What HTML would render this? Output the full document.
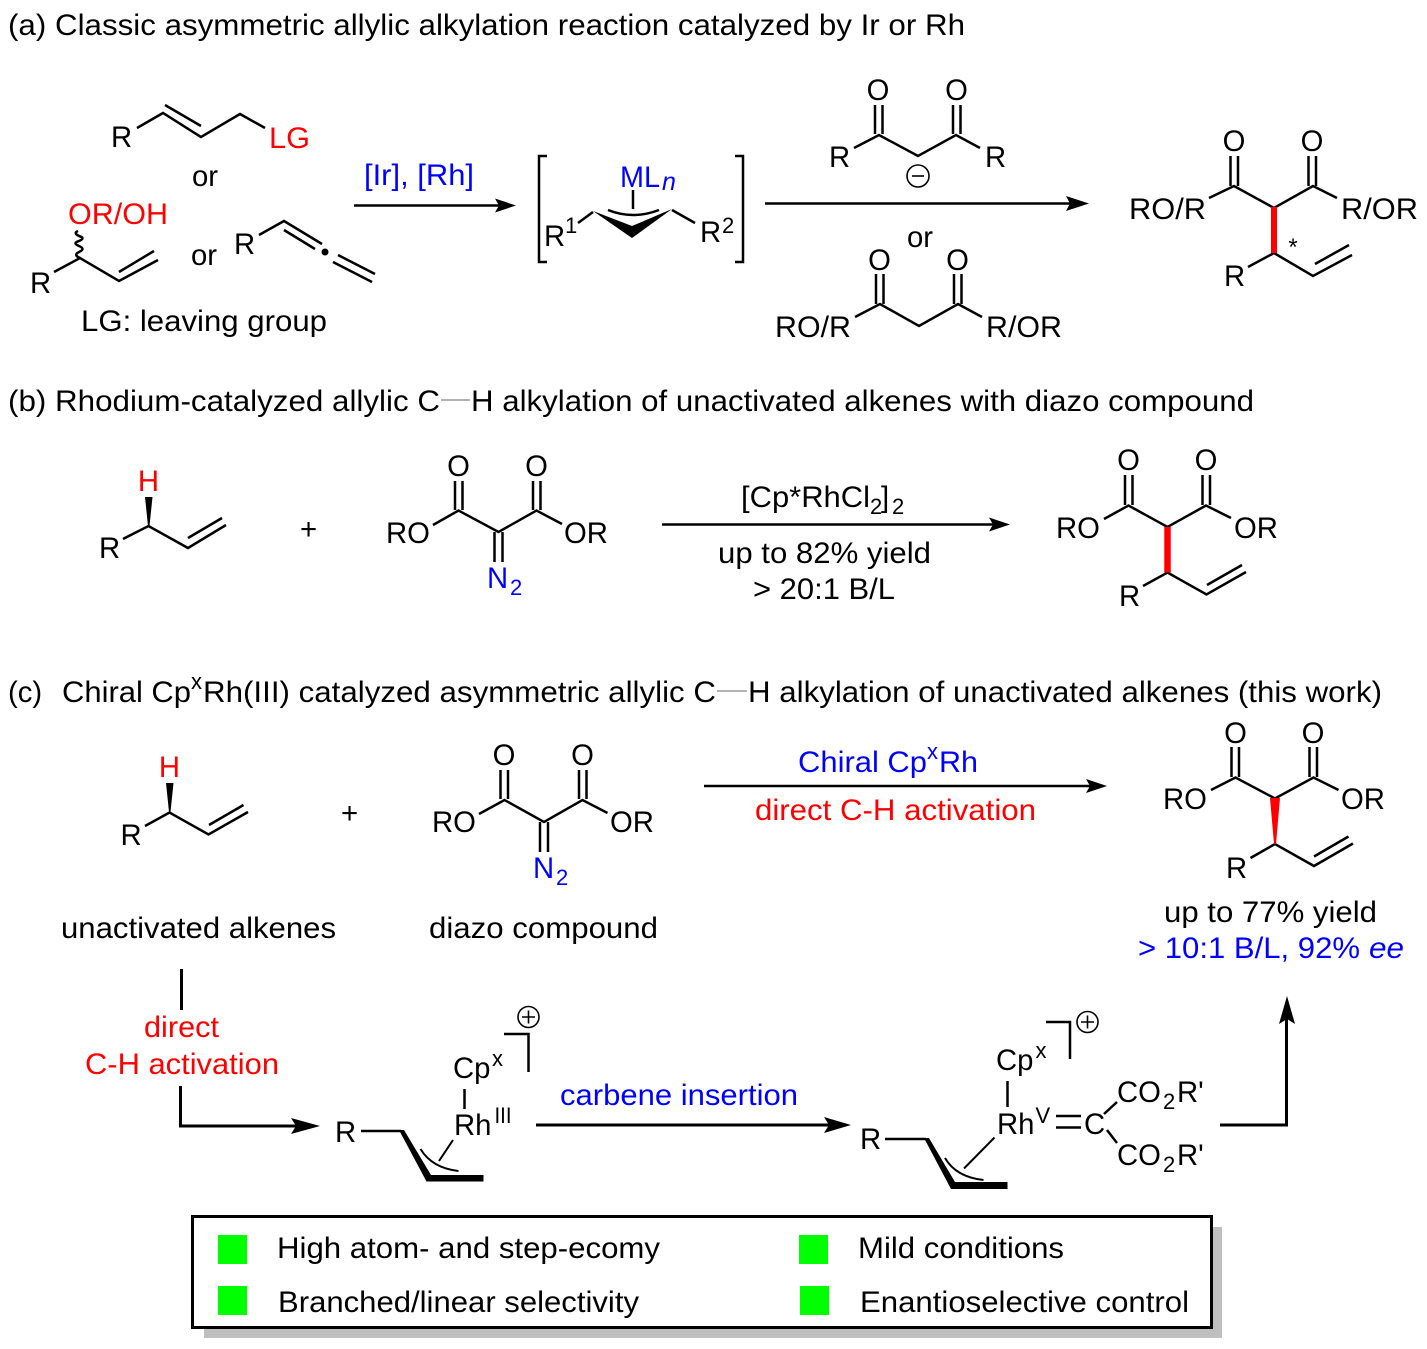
<!DOCTYPE html>
<html><head><meta charset="utf-8"><style>
html,body{margin:0;padding:0;background:#fff}
svg{display:block}
text{font-family:"Liberation Sans",sans-serif;font-size:29.3px;fill:#000}
.r{fill:#f00}.b{fill:#00f}.s{font-size:22px}.m{text-anchor:middle}
.l{stroke:#000;stroke-width:2.5;fill:none}
.t{stroke:#000;stroke-width:3;fill:none}
</style></head><body>
<svg width="1427" height="1349" viewBox="0 0 1427 1349" xmlns="http://www.w3.org/2000/svg">
<!-- titles -->
<text x="8" y="35" textLength="957" lengthAdjust="spacingAndGlyphs">(a) Classic asymmetric allylic alkylation reaction catalyzed by Ir or Rh</text>
<text x="8" y="411" textLength="432" lengthAdjust="spacingAndGlyphs">(b) Rhodium-catalyzed allylic C</text>
<line x1="441" y1="400" x2="470" y2="400" stroke="#999" stroke-width="1.6"/>
<text x="471" y="411" textLength="783" lengthAdjust="spacingAndGlyphs">H alkylation of unactivated alkenes with diazo compound</text>
<text x="8" y="702">(c)</text>
<text x="62" y="702" textLength="129" lengthAdjust="spacingAndGlyphs">Chiral Cp</text>
<text x="191" y="689" class="s">x</text>
<text x="203" y="702" textLength="513" lengthAdjust="spacingAndGlyphs">Rh(III) catalyzed asymmetric allylic C</text>
<line x1="717" y1="691" x2="747" y2="691" stroke="#999" stroke-width="1.6"/>
<text x="748" y="702" textLength="634" lengthAdjust="spacingAndGlyphs">H alkylation of unactivated alkenes (this work)</text>

<!-- panel a left -->
<g class="l">
<polyline points="137,128 163,113 201,137 240,114 265,128"/>
<line x1="165" y1="105" x2="201" y2="126"/>
<path d="M80 258 q-7 -3 -1 -6 q7 -3 0 -6 q-7 -3 0 -5 q7 -3 0 -5 q-6 -3 -1 -5"/>
<polyline points="54,272 80,258 119,281 158,260"/>
<line x1="119" y1="272" x2="154" y2="251"/>
<polyline points="259,235 284,221 322,244"/>
<line x1="284" y1="230" x2="315" y2="249"/>
<line x1="333" y1="262" x2="372" y2="282"/>
<line x1="338" y1="255" x2="375" y2="274"/>
<polyline points="547,156 539,156 539,262 547,262"/>
<polyline points="735,156 743,156 743,262 735,262"/>
<polyline points="578,223 593,212"/>
<polyline points="672,210 695,223"/>
<line x1="633" y1="190" x2="633" y2="209"/>
<path d="M608 210 Q633 220 659 210"/>
</g>
<circle cx="325" cy="252" r="3.5"/>
<polygon points="593,211 632,238 672,209 632,226"/>
<text x="111" y="147">R</text>
<text x="269" y="148" class="r" textLength="41" lengthAdjust="spacingAndGlyphs">LG</text>
<text x="205" y="186" class="m">or</text>
<text x="68" y="224" class="r" textLength="100" lengthAdjust="spacingAndGlyphs">OR/OH</text>
<text x="30" y="293">R</text>
<text x="204" y="265" class="m">or</text>
<text x="234" y="254">R</text>
<text x="81" y="331" textLength="246" lengthAdjust="spacingAndGlyphs">LG: leaving group</text>
<text x="364" y="185" class="b" textLength="110" lengthAdjust="spacingAndGlyphs">[Ir], [Rh]</text>
<line x1="354" y1="205.5" x2="500" y2="205.5" class="l"/>
<polygon points="495,198.5 516,205.5 495,212.5 499,205.5"/>
<text x="620" y="187" class="b" textLength="40" lengthAdjust="spacingAndGlyphs">ML</text>
<text x="662" y="190" class="b" style="font-size:25px;font-style:italic">n</text>
<text x="544" y="246">R</text>
<text x="565" y="233" class="s">1</text>
<text x="700" y="242">R</text>
<text x="722" y="233" class="s">2</text>

<!-- panel a middle -->
<g class="l">
<line x1="765" y1="203.5" x2="1072" y2="203.5"/>
<line x1="875" y1="105" x2="875" y2="134"/><line x1="882.5" y1="105" x2="882.5" y2="134"/>
<line x1="953" y1="105" x2="953" y2="134"/><line x1="960.5" y1="105" x2="960.5" y2="134"/>
<polyline points="854,148 879,135 918,156 956,135 980,148"/>
<circle cx="918" cy="176" r="11" style="stroke-width:1.6"/>
<line x1="912" y1="176" x2="924" y2="176" style="stroke-width:1.6"/>
<line x1="876" y1="274" x2="876" y2="304"/><line x1="883.5" y1="274" x2="883.5" y2="304"/>
<line x1="954" y1="274" x2="954" y2="304"/><line x1="961.5" y1="274" x2="961.5" y2="304"/>
<polyline points="855,317 880,304 919,326 958,304 982,317"/>
</g>
<polygon points="1066,196 1089,203.5 1066,211 1070,203.5"/>
<text x="878" y="100" class="m">O</text><text x="956.5" y="100" class="m">O</text>
<text x="829" y="167">R</text><text x="985" y="167">R</text>
<text x="920" y="247" class="m">or</text>
<text x="879.5" y="270" class="m">O</text><text x="957.5" y="270" class="m">O</text>
<text x="775" y="337" textLength="76" lengthAdjust="spacingAndGlyphs">RO/R</text>
<text x="986" y="337" textLength="76" lengthAdjust="spacingAndGlyphs">R/OR</text>

<!-- panel a product -->
<g class="l">
<line x1="1230.5" y1="156" x2="1230.5" y2="186"/><line x1="1238" y1="156" x2="1238" y2="186"/>
<line x1="1308.5" y1="156" x2="1308.5" y2="186"/><line x1="1316" y1="156" x2="1316" y2="186"/>
<polyline points="1209,198 1234,186 1274,208 1313,186 1337,198"/>
<polyline points="1248,267 1274,253 1313,276 1352,255"/>
<line x1="1315" y1="264" x2="1349" y2="245"/>
</g>
<line x1="1274" y1="207" x2="1274" y2="253" stroke="#f00" stroke-width="6"/>
<text x="1234" y="151" class="m">O</text><text x="1312" y="151" class="m">O</text>
<text x="1129" y="219" textLength="77" lengthAdjust="spacingAndGlyphs">RO/R</text>
<text x="1341" y="219" textLength="77" lengthAdjust="spacingAndGlyphs">R/OR</text>
<text x="1293" y="255" class="m" style="font-size:24px">*</text>
<text x="1224" y="286">R</text>

<!-- panel b -->
<text x="148.5" y="491" class="r m">H</text>
<polygon points="145,497 152.5,497 149.5,526 148,526"/>
<g class="l">
<polyline points="123,539 148.5,526 188,548 226,525"/>
<line x1="188" y1="538" x2="222" y2="518"/>
<line x1="455" y1="481" x2="455" y2="510"/><line x1="462.5" y1="481" x2="462.5" y2="510"/>
<line x1="533" y1="481" x2="533" y2="510"/><line x1="540.5" y1="481" x2="540.5" y2="510"/>
<polyline points="433,525 458.5,510.5 498.5,532 536.5,510.5 562,524"/>
<line x1="494.5" y1="532" x2="494.5" y2="562"/><line x1="502.5" y1="532" x2="502.5" y2="562"/>
<line x1="662" y1="524.5" x2="995" y2="524.5"/>
<line x1="1125" y1="475" x2="1125" y2="505"/><line x1="1132.5" y1="475" x2="1132.5" y2="505"/>
<line x1="1202.5" y1="475" x2="1202.5" y2="505"/><line x1="1210" y1="475" x2="1210" y2="505"/>
<polyline points="1104,519 1128.5,505.5 1167.5,527 1206,505.5 1231,518"/>
<polyline points="1143,586 1167.5,572.5 1206.5,594.5 1246,572"/>
<line x1="1207" y1="585" x2="1242" y2="565"/>
</g>
<polygon points="989,517.5 1010,524.5 989,531.5 993,524.5"/>
<line x1="1167.5" y1="527" x2="1167.5" y2="572.5" stroke="#f00" stroke-width="6.5"/>
<text x="99" y="558">R</text>
<text x="308.5" y="539" class="m">+</text>
<text x="458.5" y="476" class="m">O</text><text x="536.5" y="476" class="m">O</text>
<text x="386" y="543">RO</text><text x="564" y="543">OR</text>
<text x="487" y="588" class="b">N</text><text x="510" y="595" class="b s">2</text>
<text x="741" y="507" textLength="129" lengthAdjust="spacingAndGlyphs">[Cp*RhCl</text><text x="870" y="514" class="s">2</text><text x="881" y="507">]</text><text x="892" y="514" class="s">2</text>
<text x="718" y="563" textLength="213" lengthAdjust="spacingAndGlyphs">up to 82% yield</text>
<text x="753" y="599" textLength="142" lengthAdjust="spacingAndGlyphs">&gt; 20:1 B/L</text>
<text x="1128.5" y="470" class="m">O</text><text x="1206" y="470" class="m">O</text>
<text x="1056" y="538">RO</text><text x="1234" y="538">OR</text>
<text x="1119" y="606">R</text>

<!-- panel c top -->
<text x="169.5" y="777" class="r m">H</text>
<polygon points="166,783 173.5,783 170.5,812 169,812"/>
<g class="l">
<polyline points="145,826 169.5,812.5 208.5,834.5 248,812"/>
<line x1="209" y1="825" x2="243.5" y2="805"/>
<line x1="500.5" y1="770" x2="500.5" y2="799"/><line x1="508" y1="770" x2="508" y2="799"/>
<line x1="579" y1="770" x2="579" y2="799"/><line x1="586.5" y1="770" x2="586.5" y2="799"/>
<polyline points="479,814 504.5,800 544,822 582.5,800 607.5,813"/>
<line x1="540" y1="822" x2="540" y2="852"/><line x1="548" y1="822" x2="548" y2="852"/>
<line x1="704" y1="786" x2="1092" y2="786"/>
<line x1="1231.5" y1="747" x2="1231.5" y2="777"/><line x1="1239" y1="747" x2="1239" y2="777"/>
<line x1="1309.5" y1="747" x2="1309.5" y2="777"/><line x1="1317" y1="747" x2="1317" y2="777"/>
<polyline points="1211,790 1235.5,777.5 1275,798.5 1313.5,777.5 1338.5,790"/>
<polyline points="1250.5,858 1275,844 1314,866 1353,843.5"/>
<line x1="1314" y1="856.5" x2="1348.5" y2="836.5"/>
</g>
<polygon points="1086,779 1107,786 1086,793 1090,786"/>
<polygon points="1270,798 1280,798 1276,844 1274,844" fill="#f00"/>
<text x="120.5" y="845">R</text>
<text x="349.5" y="823" class="m">+</text>
<text x="504" y="765" class="m">O</text><text x="582.5" y="765" class="m">O</text>
<text x="432" y="832">RO</text><text x="610" y="832">OR</text>
<text x="533" y="878" class="b">N</text><text x="556" y="885" class="b s">2</text>
<text x="798" y="772" class="b" textLength="129" lengthAdjust="spacingAndGlyphs">Chiral Cp</text>
<text x="927" y="759" class="b s">x</text>
<text x="939" y="772" class="b" textLength="39" lengthAdjust="spacingAndGlyphs">Rh</text>
<text x="755" y="820" class="r" textLength="281" lengthAdjust="spacingAndGlyphs">direct C-H activation</text>
<text x="1235.5" y="743" class="m">O</text><text x="1313" y="743" class="m">O</text>
<text x="1163" y="809">RO</text><text x="1341" y="809">OR</text>
<text x="1226" y="878">R</text>
<text x="61" y="938" textLength="275" lengthAdjust="spacingAndGlyphs">unactivated alkenes</text>
<text x="429" y="938" textLength="229" lengthAdjust="spacingAndGlyphs">diazo compound</text>
<text x="1164" y="922" textLength="213" lengthAdjust="spacingAndGlyphs">up to 77% yield</text>
<text x="1138" y="958" class="b" textLength="222" lengthAdjust="spacingAndGlyphs">&gt; 10:1 B/L, 92%</text>
<text x="1369" y="958" class="b" style="font-style:italic" textLength="35" lengthAdjust="spacingAndGlyphs">ee</text>

<!-- panel c lower -->
<line x1="181.5" y1="969" x2="181.5" y2="1010" class="t"/>
<text x="144" y="1037" class="r" textLength="75" lengthAdjust="spacingAndGlyphs">direct</text>
<text x="85" y="1074" class="r" textLength="194" lengthAdjust="spacingAndGlyphs">C-H activation</text>
<polyline points="180.5,1086 180.5,1126 297,1126" class="t"/>
<polygon points="291,1118 320,1126 291,1134 296,1126"/>
<text x="453" y="1078">Cp</text><text x="492" y="1066" class="s">x</text>
<line x1="464.5" y1="1089" x2="464.5" y2="1109" class="l"/>
<text x="454" y="1135">Rh</text>
<text x="494.5" y="1123" class="s" textLength="17" lengthAdjust="spacingAndGlyphs">III</text>
<text x="335" y="1142">R</text>
<line x1="361" y1="1131" x2="401" y2="1131" class="l"/>
<polygon points="399,1130 404,1130 431,1175 483.5,1175 483.5,1181.5 426.5,1181.5"/>
<path d="M420.5 1149 Q432 1168 458.5 1171" class="l" style="stroke-width:2"/>
<line x1="453" y1="1140" x2="439" y2="1161" class="l" style="stroke-width:2"/>
<polyline points="504,1034 528.5,1034 528.5,1072" class="l"/>
<circle cx="528.5" cy="1017" r="10.5" fill="none" stroke="#000" stroke-width="1.6"/>
<path d="M522 1017H535M528.5 1010.5V1023.5" stroke="#000" stroke-width="1.6"/>
<text x="560" y="1105" class="b" textLength="238" lengthAdjust="spacingAndGlyphs">carbene insertion</text>
<line x1="536" y1="1125" x2="830" y2="1125" class="t"/>
<polygon points="824,1117 851,1125 824,1133 829,1125"/>

<text x="996" y="1070">Cp</text><text x="1035.5" y="1058" class="s">x</text>
<line x1="1007.5" y1="1081" x2="1007.5" y2="1107" class="l"/>
<text x="997" y="1134">Rh</text>
<text x="1035.5" y="1123" class="s">V</text>
<line x1="1056" y1="1116" x2="1081" y2="1116" class="l"/><line x1="1056" y1="1127.5" x2="1081" y2="1127.5" class="l"/>
<text x="1084" y="1134">C</text>
<line x1="1104" y1="1114" x2="1117" y2="1102" class="l"/>
<line x1="1107" y1="1130" x2="1117" y2="1143" class="l"/>
<text x="1117" y="1102">CO</text><text x="1163" y="1109" class="s">2</text><text x="1177" y="1102">R'</text>
<text x="1117" y="1165">CO</text><text x="1163" y="1172" class="s">2</text><text x="1177" y="1165">R'</text>
<text x="860" y="1149">R</text>
<line x1="885" y1="1139" x2="926" y2="1139" class="l"/>
<polygon points="924,1138 929,1138 955,1182 1007.5,1182 1007.5,1189 951,1189"/>
<path d="M945 1158 Q956 1177 983.5 1180" class="l" style="stroke-width:2"/>
<line x1="994.5" y1="1137.5" x2="964" y2="1168.5" class="l" style="stroke-width:2"/>
<polyline points="1046,1022 1070,1022 1070,1059" class="l"/>
<circle cx="1087.5" cy="1022" r="10.5" fill="none" stroke="#000" stroke-width="1.6"/>
<path d="M1081 1022H1094M1087.5 1015.5V1028.5" stroke="#000" stroke-width="1.6"/>
<polyline points="1220,1125 1286.5,1125 1286.5,1018" class="t"/>
<polygon points="1279,1024 1287,996 1295,1024 1287,1019"/>

<!-- box -->
<rect x="204" y="1227" width="1018" height="111" fill="#bfbfbf"/>
<rect x="192.5" y="1216.5" width="1019" height="111" fill="#fff" stroke="#000" stroke-width="3"/>
<rect x="218" y="1235" width="29" height="29" fill="#0f0"/>
<rect x="799" y="1235" width="29" height="29" fill="#0f0"/>
<rect x="218" y="1286" width="29" height="29" fill="#0f0"/>
<rect x="800" y="1286" width="29" height="29" fill="#0f0"/>
<text x="277" y="1258" textLength="383" lengthAdjust="spacingAndGlyphs">High atom- and step-ecomy</text>
<text x="858" y="1258" textLength="206" lengthAdjust="spacingAndGlyphs">Mild conditions</text>
<text x="278" y="1312" textLength="361" lengthAdjust="spacingAndGlyphs">Branched/linear selectivity</text>
<text x="860" y="1312" textLength="329" lengthAdjust="spacingAndGlyphs">Enantioselective control</text>
</svg>
</body></html>
